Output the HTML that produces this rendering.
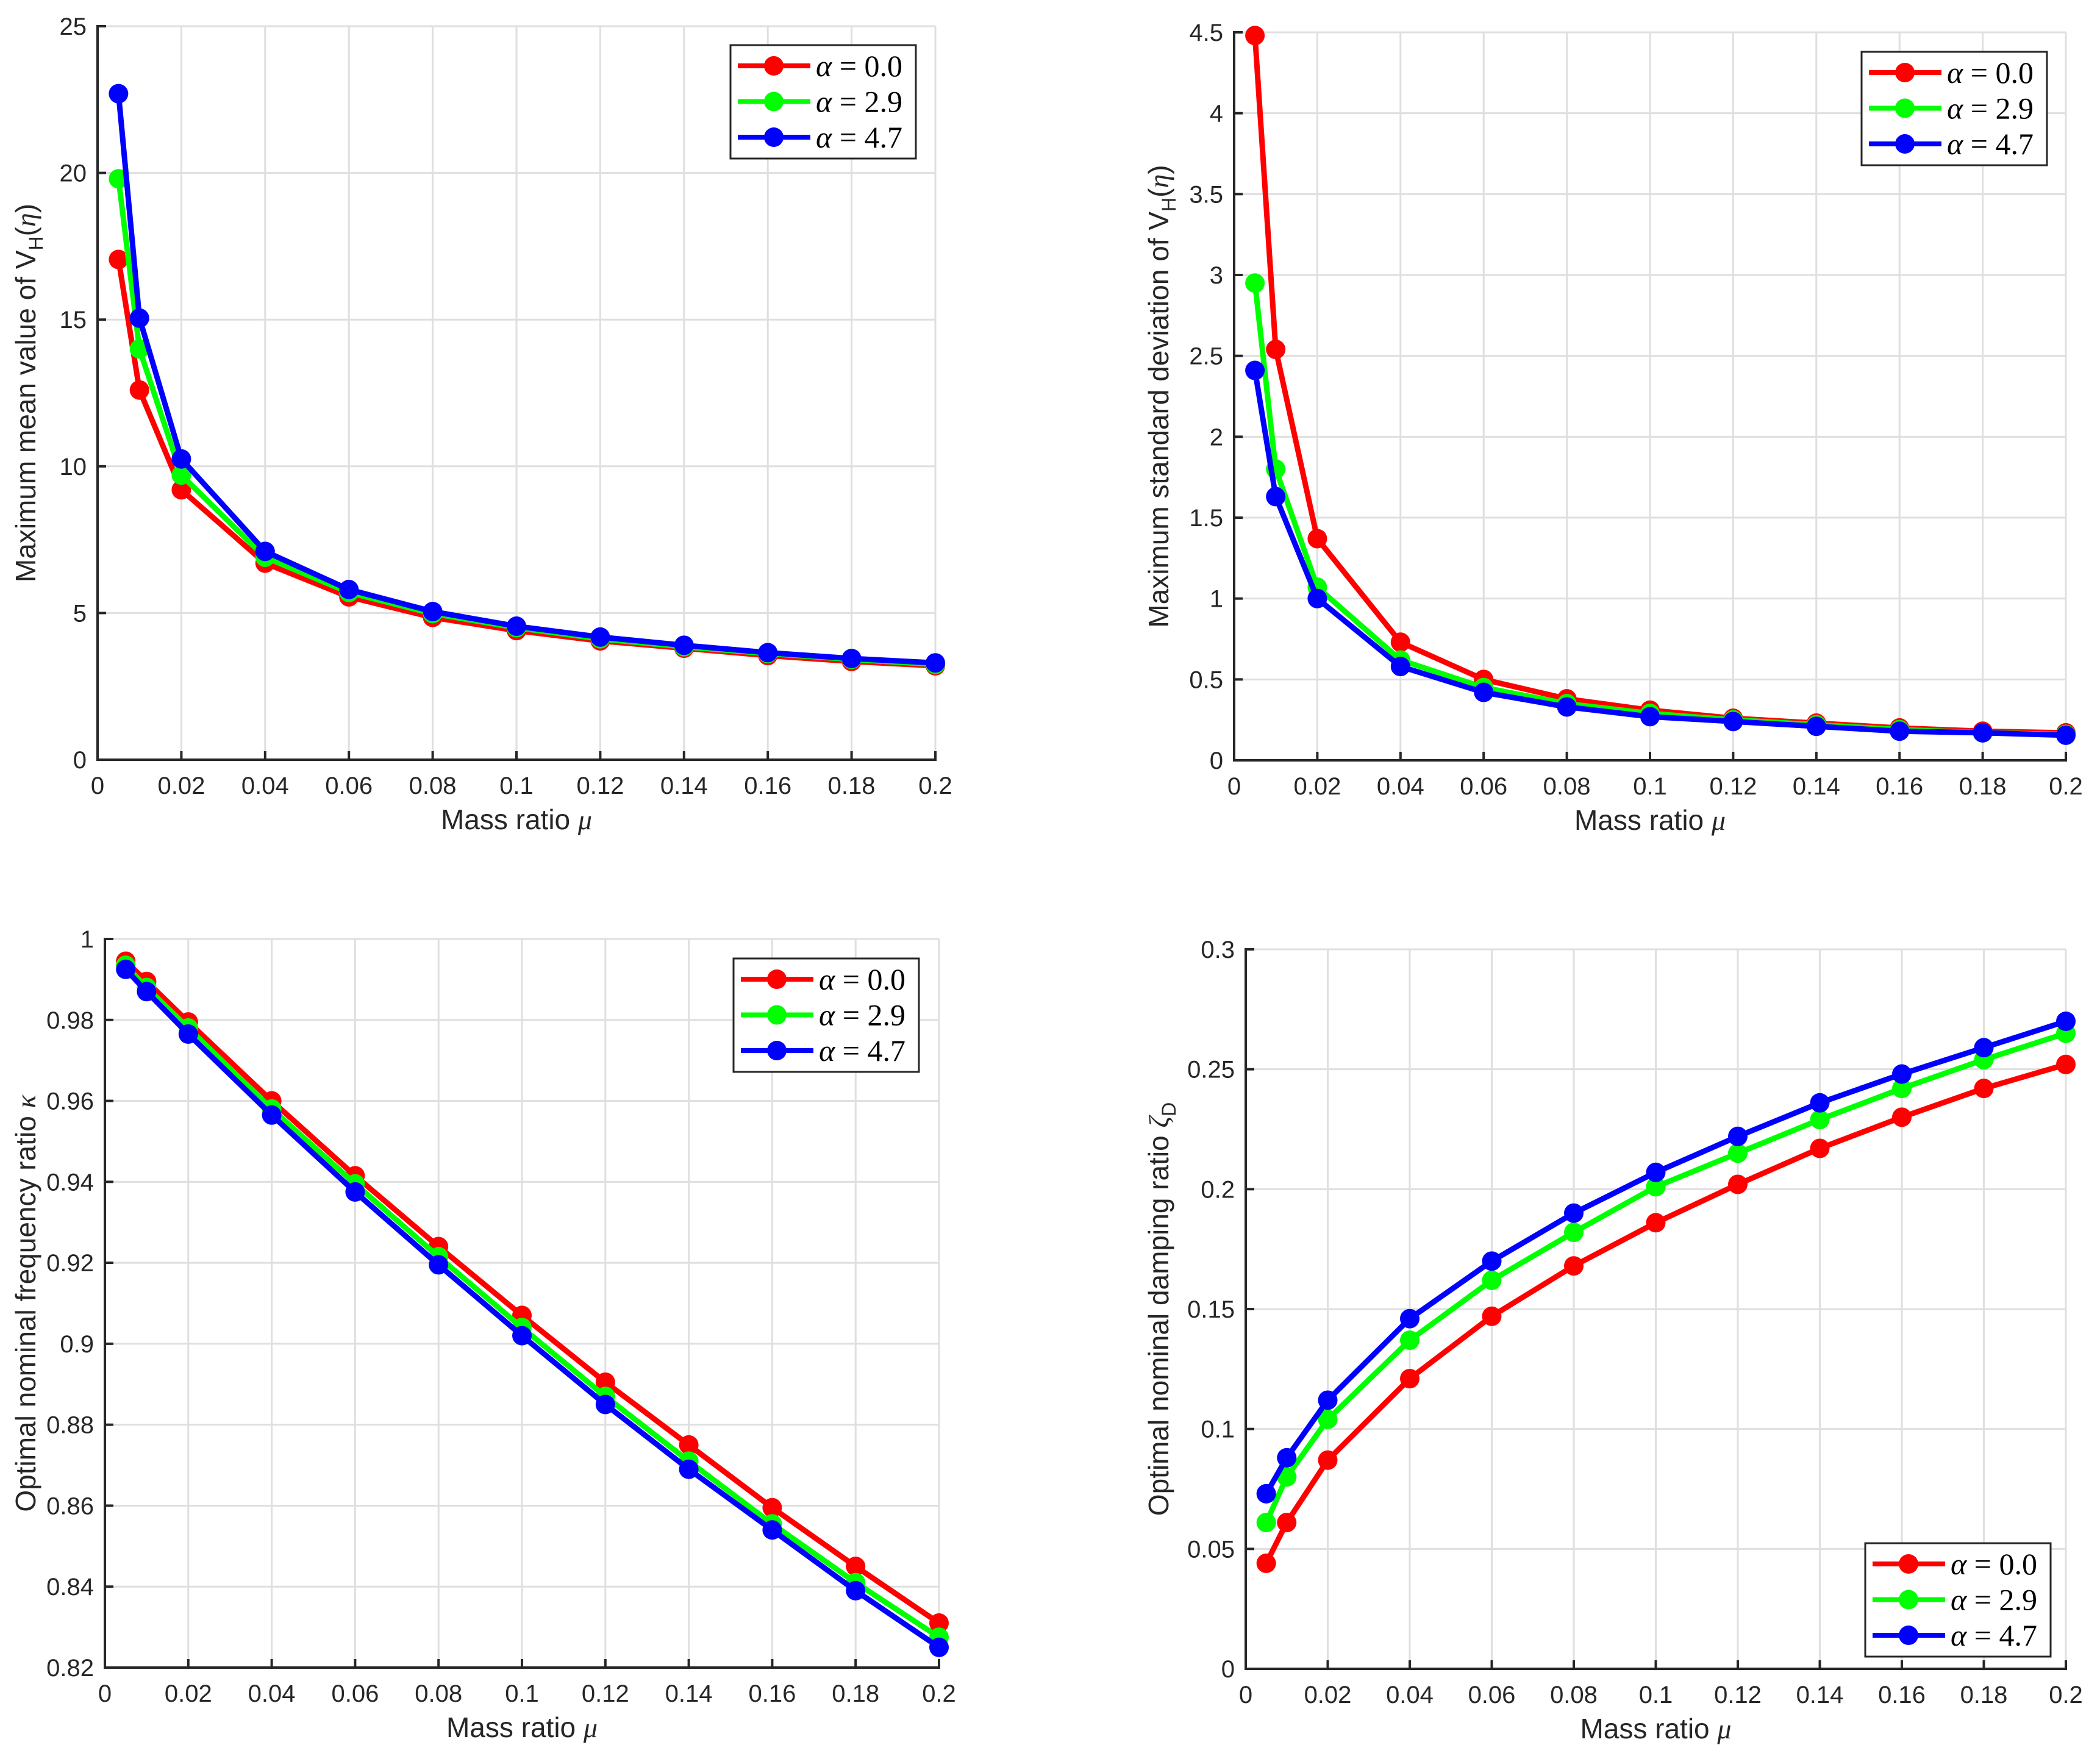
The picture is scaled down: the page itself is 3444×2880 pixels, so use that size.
<!DOCTYPE html>
<html><head><meta charset="utf-8"><style>
html,body{margin:0;padding:0;background:#fff;}
svg{display:block;}
text{font-family:"Liberation Sans",sans-serif;fill:#262626;}
.tick{font-size:40px;}
.lab{font-size:46px;}
.leg{font-family:"Liberation Serif",serif;font-size:50px;fill:#000;}
</style></head><body>
<svg id="fig" width="3444" height="2880" viewBox="0 0 3444 2880" xmlns="http://www.w3.org/2000/svg"></svg>
<script>
const mu = [0.005,0.01,0.02,0.04,0.06,0.08,0.1,0.12,0.14,0.16,0.18,0.2];
const seriesLabels = ["α = 0.0","α = 2.9","α = 4.7"];
const xTicks = [0,0.02,0.04,0.06,0.08,0.1,0.12,0.14,0.16,0.18,0.2];
const xTickLabels = ["0","0.02","0.04","0.06","0.08","0.1","0.12","0.14","0.16","0.18","0.2"];

const meanA0 = [17.05,12.6,9.2,6.7,5.55,4.85,4.4,4.05,3.8,3.55,3.35,3.2];
const meanA29 = [19.8,14.0,9.7,6.9,5.7,4.98,4.5,4.12,3.85,3.62,3.42,3.25];
const meanA47 = [22.7,15.05,10.25,7.1,5.8,5.05,4.55,4.18,3.9,3.65,3.45,3.3];
const meanTicks = [0,5,10,15,20,25];
const meanTickLabels = ["0","5","10","15","20","25"];

const stdA0 = [4.48,2.54,1.37,0.73,0.5,0.38,0.31,0.26,0.23,0.2,0.18,0.17];
const stdA29 = [2.95,1.8,1.07,0.62,0.45,0.35,0.29,0.25,0.22,0.19,0.17,0.16];
const stdA47 = [2.41,1.63,1.0,0.58,0.42,0.33,0.27,0.24,0.21,0.18,0.17,0.155];
const stdTicks = [0,0.5,1,1.5,2,2.5,3,3.5,4,4.5];
const stdTickLabels = ["0","0.5","1","1.5","2","2.5","3","3.5","4","4.5"];

const kapA0 = [0.9945,0.9895,0.9795,0.960,0.9415,0.924,0.907,0.8905,0.875,0.8595,0.845,0.831];
const kapA29 = [0.9935,0.988,0.978,0.958,0.9395,0.9215,0.904,0.887,0.871,0.8555,0.841,0.8275];
const kapA47 = [0.9925,0.987,0.9765,0.9565,0.9375,0.9195,0.902,0.885,0.869,0.854,0.839,0.825];
const kapTicks = [0.82,0.84,0.86,0.88,0.9,0.92,0.94,0.96,0.98,1];
const kapTickLabels = ["0.82","0.84","0.86","0.88","0.9","0.92","0.94","0.96","0.98","1"];

const zetA0 = [0.044,0.061,0.087,0.121,0.147,0.168,0.186,0.202,0.217,0.230,0.242,0.252];
const zetA29 = [0.061,0.080,0.104,0.137,0.162,0.182,0.201,0.215,0.229,0.242,0.254,0.265];
const zetA47 = [0.073,0.088,0.112,0.146,0.170,0.190,0.207,0.222,0.236,0.248,0.259,0.270];
const zetTicks = [0,0.05,0.1,0.15,0.2,0.25,0.3];
const zetTickLabels = ["0","0.05","0.1","0.15","0.2","0.25","0.3"];

const colors = ["#ff0000","#00ff00","#0000ff"];
const NS = "http://www.w3.org/2000/svg";
const fig = document.getElementById("fig");
function mk(tag, attrs, parent){const e=document.createElementNS(NS,tag);for(const k in attrs)e.setAttribute(k,attrs[k]);parent.appendChild(e);return e;}

function panel(p){
  const g = mk("g",{},fig);
  
  
  const X = v => p.L + (v-0)/(0.2-0)*(p.R-p.L);
  const Y = v => p.B - (v-p.ymin)/(p.ymax-p.ymin)*(p.B-p.T);
  const grid = mk("g",{stroke:"#dfdfdf","stroke-width":3},g);
  
  
  xTicks.forEach(t=>{ if(t>0) mk("line",{x1:X(t),x2:X(t),y1:p.T,y2:p.B},grid); });
  p.yt.forEach(t=>{ if(t>p.ymin) mk("line",{x1:p.L,x2:p.R,y1:Y(t),y2:Y(t)},grid); });
  const ax = mk("g",{stroke:"#262626","stroke-width":4,fill:"none"},g);
  
  
  mk("line",{x1:p.L,x2:p.L,y1:p.T-2,y2:p.B+2},ax);
  mk("line",{x1:p.L-2,x2:p.R+2,y1:p.B,y2:p.B},ax);
  xTicks.forEach(t=>mk("line",{x1:X(t),x2:X(t),y1:p.B,y2:p.B-14},ax));
  p.yt.forEach(t=>mk("line",{x1:p.L,x2:p.L+14,y1:Y(t),y2:Y(t)},ax));
  xTicks.forEach((t,i)=>{const tx=mk("text",{x:X(t),y:p.B+56,"text-anchor":"middle",class:"tick"},g);tx.textContent=xTickLabels[i];
    
    });
  p.yt.forEach((t,i)=>{const tx=mk("text",{x:p.L-18,y:Y(t)+14,"text-anchor":"end",class:"tick"},g);tx.textContent=p.ytl[i];
    
    });
  const xl = mk("text",{x:(p.L+p.R)/2,y:p.B+114,"text-anchor":"middle",class:"lab"},g);
  
  
  xl.innerHTML = 'Mass ratio <tspan font-family="Liberation Serif" font-style="italic">μ</tspan>';
  const yl = mk("text",{transform:`translate(${p.ylx},${(p.T+p.B)/2}) rotate(-90)`,"text-anchor":"middle",class:"lab"},g);
  
  
  yl.innerHTML = p.ylab;
  p.series.forEach((s,si)=>{
    const sg = mk("g",{},g);
    
    
    mk("polyline",{points:mu.map((m,i)=>X(m)+","+Y(s[i])).join(" "),fill:"none",stroke:colors[si],"stroke-width":9,"stroke-linejoin":"round"},sg);
    mu.forEach((m,i)=>{const c=mk("circle",{cx:X(m),cy:Y(s[i]),r:16,fill:colors[si]},sg);
      
      });
  });
  const lg = mk("g",{},g);
  
  
  mk("rect",{x:p.lx,y:p.ly,width:304,height:186,fill:"#fff",stroke:"#262626","stroke-width":3},lg);
  seriesLabels.forEach((lab,i)=>{
    const e = mk("g",{},lg);
    
    
    const cy = p.ly+34+i*58.5;
    mk("line",{x1:p.lx+12,x2:p.lx+131,y1:cy,y2:cy,stroke:colors[i],"stroke-width":8},e);
    mk("circle",{cx:p.lx+71,cy:cy,r:16,fill:colors[i]},e);
    const t = mk("text",{x:p.lx+140,y:cy+17,class:"leg"},e);
    t.innerHTML = '<tspan font-style="italic">α</tspan> = '+lab.split("= ")[1];
  });
}

panel({name:"mean-value-panel",L:160,R:1534,T:43,B:1246,ymin:0,ymax:25,yt:meanTicks,ytl:meanTickLabels,
  ylx:58,ylab:'Maximum mean value of V<tspan font-size="32" dy="12">H</tspan><tspan dy="-12">(</tspan><tspan font-family="Liberation Serif" font-style="italic">η</tspan>)',
  series:[meanA0,meanA29,meanA47],lx:1198,ly:74});
panel({name:"std-dev-panel",L:2024,R:3388,T:53,B:1247,ymin:0,ymax:4.5,yt:stdTicks,ytl:stdTickLabels,
  ylx:1916,ylab:'Maximum standard deviation of V<tspan font-size="32" dy="12">H</tspan><tspan dy="-12">(</tspan><tspan font-family="Liberation Serif" font-style="italic">η</tspan>)',
  series:[stdA0,stdA29,stdA47],lx:3053,ly:85});
panel({name:"frequency-ratio-panel",L:172,R:1540,T:1540,B:2735,ymin:0.82,ymax:1,yt:kapTicks,ytl:kapTickLabels,
  ylx:58,ylab:'Optimal nominal frequency ratio <tspan font-family="Liberation Serif" font-style="italic">κ</tspan>',
  series:[kapA0,kapA29,kapA47],lx:1203,ly:1572});
panel({name:"damping-ratio-panel",L:2043,R:3388,T:1557,B:2737,ymin:0,ymax:0.3,yt:zetTicks,ytl:zetTickLabels,
  ylx:1916,ylab:'Optimal nominal damping ratio <tspan font-family="Liberation Serif" font-style="italic">ζ</tspan><tspan font-size="32" dy="12">D</tspan>',
  series:[zetA0,zetA29,zetA47],lx:3059,ly:2531});
</script>
</body></html>
